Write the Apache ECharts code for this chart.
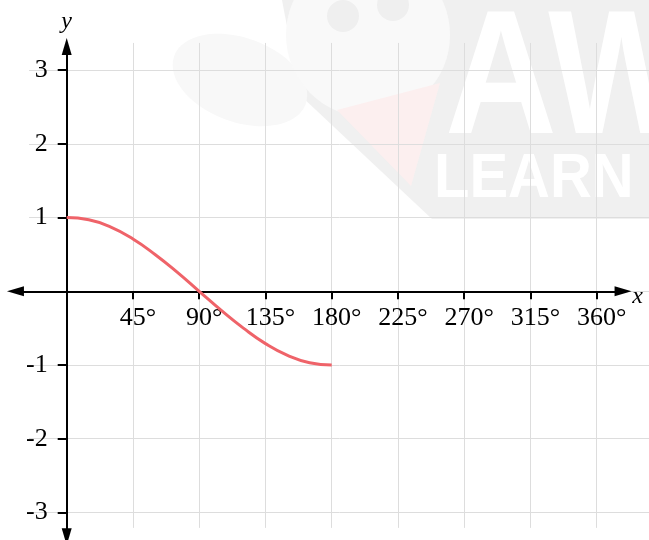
<!DOCTYPE html>
<html>
<head>
<meta charset="utf-8">
<style>
  html, body { margin: 0; padding: 0; background: #ffffff; }
  #chart { width: 649px; height: 540px; }
</style>
<script src="https://cdn.jsdelivr.net/npm/echarts@6/dist/echarts.min.js"></script>
</head>
<body>
<div id="chart"></div>
<script>
// y = cos(x) over the first half turn, plotted in degrees
const angleDeg = [0, 15, 30, 45, 60, 75, 90, 105, 120, 135, 150, 165, 180];
const cosValues = [1, 0.97, 0.87, 0.71, 0.5, 0.26, 0, -0.26, -0.5, -0.71, -0.87, -0.97, -1];

const xTicks = [45, 90, 135, 180, 225, 270, 315, 360];
const xTickLabels = ['45°', '90°', '135°', '180°', '225°', '270°', '315°', '360°'];
const yTicks = [-3, -2, -1, 1, 2, 3];
const yTickLabels = ['-3', '-2', '-1', '1', '2', '3'];

// visible ranges: the background grid and the arrowed axes
const gridRangeX = [-25.6, 396.5];
const gridRangeY = [-3.21, 3.37];
const axisRangeX = [-34.8, 377.9];
const axisRangeY = [-3.33, 3.32];

// shared pixel scale so both grids line up exactly
const ORIGIN = [66.7, 291.3];
const PX_PER_DEG = 530 / 360;
const PX_PER_UNIT = 73.7;
function box(xr, yr) {
  return {
    left: ORIGIN[0] + xr[0] * PX_PER_DEG,
    width: (xr[1] - xr[0]) * PX_PER_DEG,
    top: ORIGIN[1] - yr[1] * PX_PER_UNIT,
    height: (yr[1] - yr[0]) * PX_PER_UNIT,
    outerBoundsMode: 'none',
    containLabel: false
  };
}
// the axes cross at the origin: shift them in from the grid edges
const xAxisShift = axisRangeY[0] * PX_PER_UNIT;   // negative: moves up
const yAxisShift = axisRangeX[0] * PX_PER_DEG;    // negative: moves right

const SERIF = "'Liberation Serif', 'Times New Roman', 'DejaVu Serif', serif";
const GRID_COLOR = '#dddddd';
const CURVE_COLOR = '#ef6369';
const ARROW = { symbol: ['triangle', 'triangle'], symbolSize: [10, 17] };

const chart = echarts.init(document.getElementById('chart'), null, { renderer: 'canvas' });

// faint logo behind the plot
const logo = [
  { type: 'polygon', shape: { points: [[282, 0], [649, 0], [649, 219], [432, 219], [300, 95]] }, style: { fill: '#f0f0f0' } },
  { type: 'ellipse', shape: { cx: 240, cy: 80, rx: 70, ry: 42 }, rotation: -0.35, originX: 240, originY: 80, style: { fill: '#f8f8f8' } },
  { type: 'circle', shape: { cx: 368, cy: 35, r: 82 }, style: { fill: '#f9f9f9' } },
  { type: 'polygon', shape: { points: [[337, 110], [440, 83], [411, 186]] }, style: { fill: '#fcefef' } },
  { type: 'circle', shape: { cx: 343, cy: 16, r: 16 }, style: { fill: '#efefef' } },
  { type: 'circle', shape: { cx: 393, cy: 5, r: 16 }, style: { fill: '#efefef' } },
  { type: 'text', x: 445, y: 84, scaleX: 0.88, style: { text: 'AW', fill: '#ffffff', verticalAlign: 'middle', font: "bold 176px 'Liberation Sans', sans-serif" } },
  { type: 'text', x: 434, y: 180, scaleX: 0.92, style: { text: 'LEARN', fill: '#ffffff', verticalAlign: 'middle', font: "bold 63px 'Liberation Sans', sans-serif" } }
].map(function (el) { el.z = -10; el.silent = true; return el; });

const option = {
  animation: false,
  backgroundColor: '#ffffff',
  graphic: { elements: logo },
  grid: [box(gridRangeX, gridRangeY), box(axisRangeX, axisRangeY)],
  xAxis: [
    {
      gridIndex: 0, type: 'value', min: gridRangeX[0], max: gridRangeX[1],
      axisLine: { show: false },
      axisTick: { show: false, customValues: [0].concat(xTicks) },
      axisLabel: { show: false },
      splitLine: { show: true, lineStyle: { color: GRID_COLOR, width: 1 } }
    },
    {
      gridIndex: 1, type: 'value', min: axisRangeX[0], max: axisRangeX[1],
      position: 'bottom', offset: xAxisShift,
      axisLine: Object.assign({ show: true, onZero: false, lineStyle: { color: '#000000', width: 2 } }, ARROW),
      axisTick: { show: true, customValues: xTicks, length: 8, lineStyle: { color: '#000000', width: 2 } },
      axisLabel: {
        show: true, customValues: xTicks, margin: 14,
        formatter: function (v) { return xTickLabels[xTicks.indexOf(v)]; },
        color: '#000000', fontFamily: SERIF, fontSize: 26, padding: [0, 0, 0, 10]
      },
      splitLine: { show: false },
      name: 'x', nameLocation: 'end', nameGap: 9,
      nameTextStyle: {
        color: '#000000', fontFamily: SERIF, fontStyle: 'italic', fontSize: 24,
        verticalAlign: 'top', lineHeight: 10
      }
    }
  ],
  yAxis: [
    {
      gridIndex: 0, type: 'value', min: gridRangeY[0], max: gridRangeY[1],
      axisLine: { show: false },
      axisTick: { show: false, customValues: [-3, -2, -1, 0, 1, 2, 3] },
      axisLabel: { show: false },
      splitLine: { show: true, lineStyle: { color: GRID_COLOR, width: 1 } }
    },
    {
      gridIndex: 1, type: 'value', min: axisRangeY[0], max: axisRangeY[1],
      position: 'left', offset: yAxisShift,
      axisLine: Object.assign({ show: true, onZero: false, lineStyle: { color: '#000000', width: 2 } }, ARROW),
      axisTick: { show: true, customValues: yTicks, length: 9, lineStyle: { color: '#000000', width: 2 } },
      axisLabel: {
        show: true, customValues: yTicks, margin: 19,
        formatter: function (v) { return yTickLabels[yTicks.indexOf(v)]; },
        color: '#000000', fontFamily: SERIF, fontSize: 26
      },
      splitLine: { show: false },
      name: 'y', nameLocation: 'end', nameGap: 13,
      nameTextStyle: { color: '#000000', fontFamily: SERIF, fontStyle: 'italic', fontSize: 24 }
    }
  ],
  series: [
    {
      type: 'line', xAxisIndex: 1, yAxisIndex: 1,
      data: angleDeg.map(function (a, i) { return [a, cosValues[i]]; }),
      smooth: true, showSymbol: false, symbol: 'none',
      lineStyle: { color: CURVE_COLOR, width: 3 },
      z: 5
    }
  ]
};

chart.setOption(option);
</script>
</body>
</html>
